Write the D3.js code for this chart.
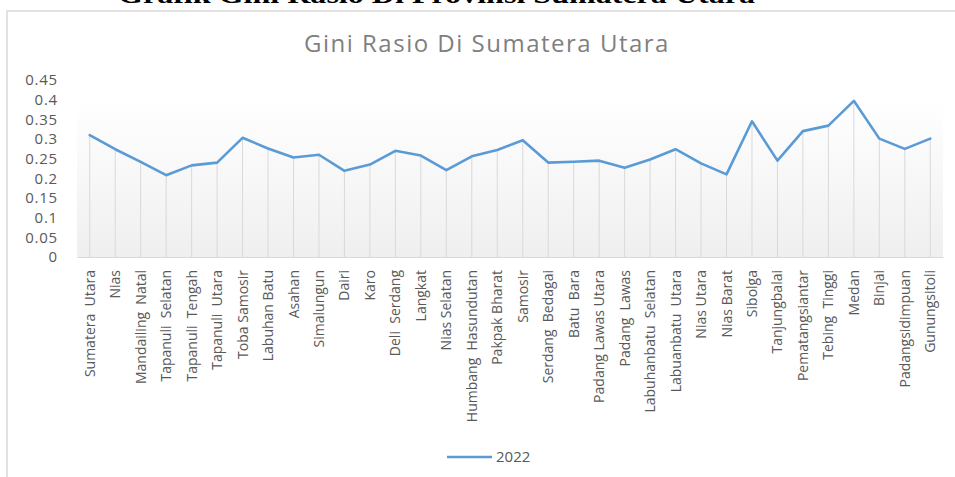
<!DOCTYPE html>
<html>
<head>
<meta charset="utf-8">
<script src="https://cdn.jsdelivr.net/npm/d3@7"></script>
<style>
  body { margin: 0; background: #fff; }
  #chart { width: 955px; height: 477px; }
  text { font-family: "Open Sans", sans-serif; }
</style>
</head>
<body>
<div id="chart"><svg width="955" height="477"></svg></div>
<script>
// regions (double spaces kept as in the picture)
const regions = ["Sumatera  Utara", "Nias", "Mandailing  Natal", "Tapanuli  Selatan", "Tapanuli  Tengah",
  "Tapanuli  Utara", "Toba Samosir", "Labuhan Batu", "Asahan", "Simalungun", "Dairi", "Karo",
  "Deli  Serdang", "Langkat", "Nias Selatan", "Humbang  Hasundutan", "Pakpak Bharat", "Samosir",
  "Serdang  Bedagai", "Batu  Bara", "Padang Lawas Utara", "Padang  Lawas", "Labuhanbatu  Selatan",
  "Labuanbatu  Utara", "Nias Utara", "Nias Barat", "Sibolga", "Tanjungbalai", "Pematangsiantar",
  "Tebing  Tinggi", "Medan", "Binjai", "Padangsidimpuan", "Gunungsitoli"];

// gini ratio 2022
const gini2022 = [0.310, 0.274, 0.242, 0.208, 0.233, 0.240, 0.303, 0.276, 0.253, 0.260, 0.219, 0.235,
  0.270, 0.258, 0.221, 0.256, 0.272, 0.297, 0.240, 0.242, 0.245, 0.227, 0.248, 0.274, 0.238, 0.210,
  0.345, 0.245, 0.320, 0.334, 0.397, 0.301, 0.275, 0.301];

const yTicks = [0, 0.05, 0.1, 0.15, 0.2, 0.25, 0.3, 0.35, 0.4, 0.45];
const seriesName = "2022";

const data = regions.map((r, i) => ({region: r, value: gini2022[i]}));

const svg = d3.select("#chart").select("svg");

// plot area
const plot = {left: 77, right: 943, top: 80, bottom: 257};

// header text cut off at top of the page (as in the source picture)
svg.append("text")
    .attr("x", 118)
    .attr("y", 3)
    .attr("textLength", 637)
    .attr("lengthAdjust", "spacingAndGlyphs")
    .style("font-family", "'Liberation Serif', serif")
    .style("font-weight", "bold")
    .style("font-size", "26px")
    .text("Grafik Gini Rasio Di Provinsi Sumatera Utara");

// chart frame
svg.append("rect")
    .attr("x", 7)
    .attr("y", 11)
    .attr("width", 1000)
    .attr("height", 500)
    .attr("fill", "#fff")
    .attr("stroke", "#d9d9d9")
    .attr("stroke-width", 1.5);

// title
svg.append("text")
    .attr("x", 487)
    .attr("y", 52)
    .attr("text-anchor", "middle")
    .style("font-size", "24px")
    .style("letter-spacing", "1.5px")
    .attr("fill", "#7f7f7f")
    .text("Gini Rasio Di Sumatera Utara");

// scales
const xScale = d3.scaleBand()
    .domain(regions)
    .range([plot.left, plot.right]);
const yScale = d3.scaleLinear()
    .domain([0, 0.45])
    .range([plot.bottom, plot.top]);

// background gradient
const grad = svg.append("defs").append("linearGradient")
    .attr("id", "bg")
    .attr("x1", 0).attr("y1", 0).attr("x2", 0).attr("y2", 1);
grad.append("stop").attr("offset", "0%").attr("stop-color", "#ffffff");
grad.append("stop").attr("offset", "12%").attr("stop-color", "#ffffff");
grad.append("stop").attr("offset", "100%").attr("stop-color", "#efefef");

svg.append("rect")
    .attr("x", plot.left)
    .attr("y", plot.top)
    .attr("width", plot.right - plot.left)
    .attr("height", plot.bottom - plot.top)
    .attr("fill", "url(#bg)");

// drop lines
svg.append("g")
    .selectAll("line")
    .data(data)
    .enter()
    .append("line")
    .attr("x1", d => xScale(d.region) + xScale.bandwidth() / 2)
    .attr("x2", d => xScale(d.region) + xScale.bandwidth() / 2)
    .attr("y1", d => yScale(d.value))
    .attr("y2", plot.bottom)
    .attr("stroke", "#d9d9d9")
    .attr("stroke-width", 1);

// y axis (labels only)
const yAxis = svg.append("g")
    .attr("transform", "translate(" + plot.left + ",0)")
    .call(d3.axisLeft(yScale).tickValues(yTicks).tickSize(0).tickPadding(19)
        .tickFormat(d => d3.format("")(+d.toFixed(2))));
yAxis.select(".domain").remove();
yAxis.selectAll("text")
    .attr("fill", "#595959")
    .style("font-size", "15px")
    .style("letter-spacing", "0.8px")
    .style("font-family", "'Open Sans', sans-serif");

// x axis
const xAxis = svg.append("g")
    .attr("transform", "translate(0," + plot.bottom + ")")
    .call(d3.axisBottom(xScale).tickSize(0));
xAxis.select(".domain")
    .attr("stroke", "#d9d9d9")
    .attr("stroke-width", 1.2);
xAxis.selectAll("text")
    .attr("fill", "#595959")
    .style("font-size", "14px")
    .style("white-space", "pre")
    .style("font-family", "'Open Sans', sans-serif")
    .attr("text-anchor", "end")
    .attr("transform", "rotate(-90)")
    .attr("x", -13)
    .attr("y", 0)
    .attr("dy", "0.36em");

// line
const line = d3.line()
    .x(d => xScale(d.region) + xScale.bandwidth() / 2)
    .y(d => yScale(d.value));

svg.append("path")
    .datum(data)
    .attr("d", line)
    .attr("fill", "none")
    .attr("stroke", "#5b9bd5")
    .attr("stroke-width", 2.6)
    .attr("stroke-linejoin", "round")
    .attr("stroke-linecap", "round");

// legend
svg.append("line")
    .attr("x1", 447).attr("x2", 492)
    .attr("y1", 457).attr("y2", 457)
    .attr("stroke", "#5b9bd5")
    .attr("stroke-width", 2.6);
svg.append("text")
    .attr("x", 496)
    .attr("y", 457)
    .attr("dy", "0.35em")
    .attr("fill", "#595959")
    .style("font-size", "15px")
    .text(seriesName);
</script>
</body>
</html>
